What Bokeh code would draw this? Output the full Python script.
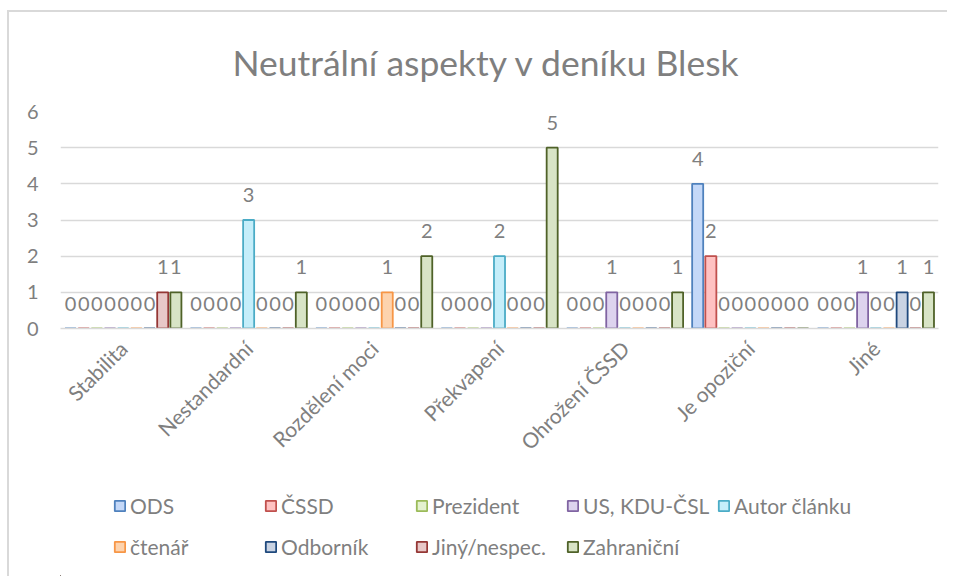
import math
from bokeh.plotting import figure
from bokeh.layouts import column
from bokeh.models import (ColumnDataSource, FactorRange, Range1d, Legend, LegendItem,
                          FixedTicker)
from bokeh.transform import dodge
from bokeh.embed import file_html
from bokeh.resources import INLINE
from bokeh.core.properties import value

# ---- data ----
categories = ["Stabilita", "Nestandardní", "Rozdělení moci", "Překvapení",
              "Ohrožení ČSSD", "Je opoziční", "Jiné"]
series_names = ["ODS", "ČSSD", "Prezident", "US, KDU-ČSL", "Autor článku",
                "čtenář", "Odborník", "Jiný/nespec.", "Zahraniční"]
ods        = [0, 0, 0, 0, 0, 4, 0]
cssd       = [0, 0, 0, 0, 0, 2, 0]
prezident  = [0, 0, 0, 0, 0, 0, 0]
us_kdu     = [0, 0, 0, 0, 1, 0, 1]
autor      = [0, 3, 0, 2, 0, 0, 0]
ctenar     = [0, 0, 1, 0, 0, 0, 0]
odbornik   = [0, 0, 0, 0, 0, 0, 1]
jiny       = [1, 0, 0, 0, 0, 0, 0]
zahranicni = [1, 1, 2, 5, 1, 0, 1]
y_ticks = [0, 1, 2, 3, 4, 5, 6]
title_text = "Neutrální aspekty v deníku Blesk"

series_values = [ods, cssd, prezident, us_kdu, autor, ctenar, odbornik, jiny, zahranicni]
line_colors = ["#4f81bd", "#c0504d", "#9bbb59", "#8064a2", "#4bacc6",
               "#f79646", "#1f497d", "#953735", "#4f6228"]
fill_colors = ["#c4d8f8", "#ffc2c2", "#e4f2cf", "#ddd3ee", "#c5eefa",
               "#fdd3ae", "#c9d3e3", "#e8c8c8", "#d8e4c6"]

FONT = "Lato"
GRAY = "#7f7f7f"
BORDER = "2px solid #d9d9d9"

data = {"cat": categories}
for i, vals in enumerate(series_values):
    data[f"s{i}"] = vals
    data[f"t{i}"] = [str(v) for v in vals]
src = ColumnDataSource(data)

p = figure(x_range=FactorRange(*categories, range_padding=0),
           y_range=Range1d(0, 6),
           width=940, height=458,
           output_backend="svg", toolbar_location=None,
           title=title_text,
           min_border_left=51, min_border_right=11,
           min_border_top=99, min_border_bottom=142,
           margin=(10, 0, 0, 7),
           styles={"border-top": BORDER, "border-left": BORDER})

p.title.text_font = FONT
p.title.text_font_size = "35.5px"
p.title.text_font_style = "normal"
p.title.text_color = GRAY
p.title.align = "left"
p.title.vertical_align = "top"
p.title.offset = 172
p.title.standoff = 52

pitch = 0.105
bw = 0.088
legend_fig = figure(width=940, height=108, output_backend="svg", toolbar_location=None,
                    x_axis_type=None, y_axis_type=None,
                    x_range=Range1d(0, 1), y_range=Range1d(0, 1),
                    min_border_left=51, min_border_right=11,
                    min_border_top=0, min_border_bottom=0,
                    margin=(0, 0, 0, 7),
                    styles={"border-left": BORDER})
legend_fig.outline_line_color = None
legend_fig.xgrid.grid_line_color = None
legend_fig.ygrid.grid_line_color = None

items = []
for i, name in enumerate(series_names):
    off = (i - 4) * pitch
    p.vbar(x=dodge("cat", off, range=p.x_range), top=f"s{i}", width=bw,
           source=src, fill_color=fill_colors[i], line_color=line_colors[i],
           line_width=1.8)
    p.text(x=dodge("cat", off, range=p.x_range), y=f"s{i}", text=f"t{i}",
           source=src, y_offset=-25, text_align="center", text_baseline="middle",
           text_font=value(FONT), text_font_size="20px", text_color=GRAY)
    # legend proxy glyph, kept outside the visible range of the legend panel
    proxy = legend_fig.vbar(x=[-10], bottom=[-10], top=[-9], width=0.1,
                            fill_color=fill_colors[i], line_color=line_colors[i],
                            line_width=1.8)
    items.append(LegendItem(label=name, renderers=[proxy]))

p.xgrid.grid_line_color = None
p.ygrid.grid_line_color = "#d9d9d9"
p.ygrid.grid_line_width = 1.5
p.outline_line_color = None

p.yaxis.ticker = FixedTicker(ticks=y_ticks)
p.yaxis.axis_line_color = None
p.yaxis.major_tick_line_color = None
p.yaxis.major_tick_out = 0
p.yaxis.minor_tick_line_color = None
p.yaxis.major_label_standoff = 22
p.yaxis.major_label_text_font = FONT
p.yaxis.major_label_text_font_size = "20px"
p.yaxis.major_label_text_color = GRAY

p.xaxis.axis_line_color = "#d9d9d9"
p.xaxis.axis_line_width = 1.5
p.xaxis.major_tick_line_color = None
p.xaxis.major_tick_out = 0
p.xaxis.minor_tick_line_color = None
p.xaxis.major_label_orientation = math.pi / 4
p.xaxis.major_label_standoff = 16
p.xaxis.major_label_text_font = FONT
p.xaxis.major_label_text_font_size = "21px"
p.xaxis.major_label_text_color = GRAY

legend = Legend(items=items, orientation="horizontal", ncols=5,
                location=(53, 12),
                glyph_width=13, glyph_height=13, label_standoff=4,
                label_width=128, label_height=35, spacing=6,
                margin=0, padding=0,
                label_text_font=FONT, label_text_font_size="21px",
                label_text_color=GRAY, border_line_color=None,
                background_fill_alpha=0)
legend_fig.add_layout(legend, "center")

layout = column(p, legend_fig, spacing=0)
open("out.html", "w").write(file_html(layout, INLINE))
